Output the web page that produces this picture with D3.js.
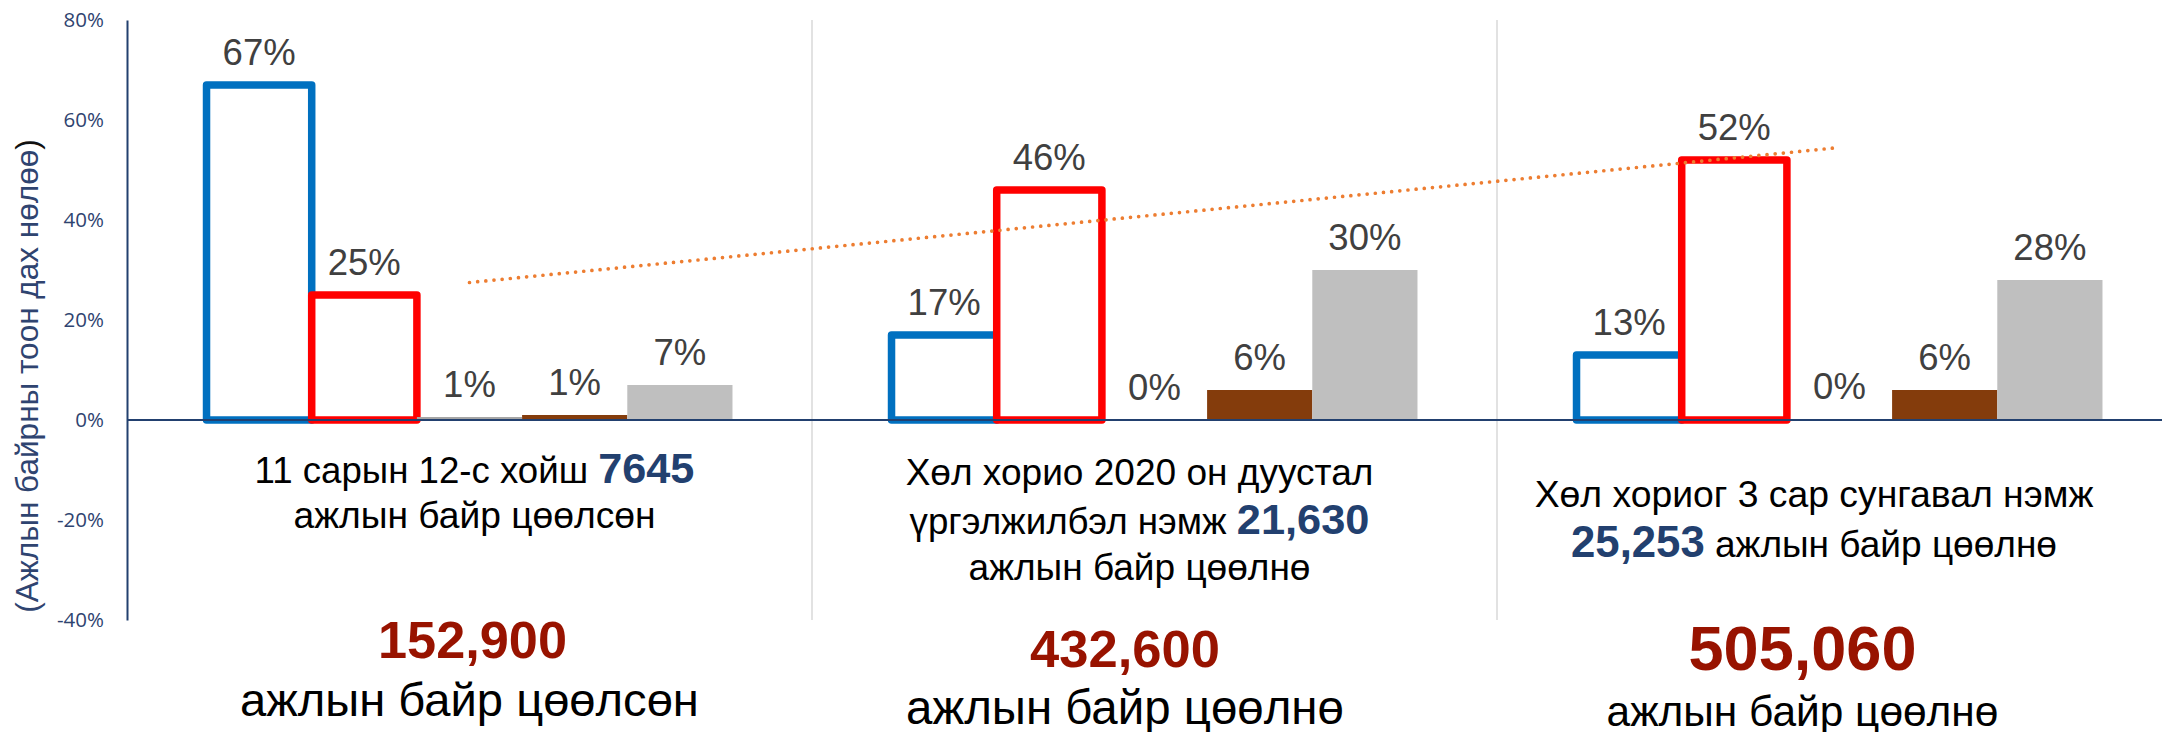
<!DOCTYPE html>
<html>
<head>
<meta charset="utf-8">
<script src="https://cdn.jsdelivr.net/npm/d3@7"></script>
<style>
  html, body { margin: 0; padding: 0; background: #ffffff; }
  svg { display: block; }
</style>
</head>
<body>
<svg id="chart" width="2162" height="732"></svg>
<script>
// ---------------- DATA ----------------
const groups = ["g1", "g2", "g3"];
const seriesKeys = ["s1", "s2", "s3", "s4", "s5"];
const series1 = [67, 17, 13];     // blue outline
const series2 = [25, 46, 52];     // red outline
const series3 = [0.6, 0.1, 0.2];  // mid gray (labels 1%, 0%, 0%)
const series4 = [1, 6, 6];        // brown
const series5 = [7, 30, 28];      // light gray
const yTickValues = [-40, -20, 0, 20, 40, 60, 80];
const yTitle = "(Ажлын байрны тоон дах нөлөө";
const yTitleEnd = ")";
const subtitleLines = [
  [[{ t: "11 сарын 12-с хойш " }, { t: "7645", b: true }],
   [{ t: "ажлын байр цөөлсөн" }]],
  [[{ t: "Хөл хорио 2020 он дуустал" }],
   [{ t: "үргэлжилбэл нэмж " }, { t: "21,630", b: true }],
   [{ t: "ажлын байр цөөлнө" }]],
  [[{ t: "Хөл хориог 3 сар сунгавал нэмж" }],
   [{ t: "25,253", b: true }, { t: " ажлын байр цөөлнө" }]]
];
const bigNumbers = ["152,900", "432,600", "505,060"];
const bigTexts = ["ажлын байр цөөлсөн", "ажлын байр цөөлнө", "ажлын байр цөөлнө"];

// ---------------- LAYOUT / STYLE ----------------
const W = 2162, H = 732;
const plotLeft = 127, bandW = 685;
const yTop = 20, yBottom = 620;
const colors = { s1: "#0070C0", s2: "#FF0000", s3: "#A5A5A5", s4: "#843C0C", s5: "#BFBFBF" };
const outlined = { s1: true, s2: true };
const navy = "#22406F";
const darkRed = "#981300";
const FONT = "'Liberation Sans', Arial, sans-serif";

// subtitle layout per group: center offset from band center, baselines, target widths
const subLayout = [
  { dx: 5,     base: [483, 528],      w: [440, 362] },
  { dx: -15,   base: [485, 534, 580], w: [468, 460, 342] },
  { dx: -25.5, base: [507, 557],      w: [559, 486] }
];
const bigNumLayout = [
  { dx: 3,     base: 658, w: 189 },
  { dx: -29.5, base: 667, w: 190 },
  { dx: -37,   base: 670, w: 228 }
];
const bigTextLayout = [
  { dx: 0,     base: 716, w: 459 },
  { dx: -29.5, base: 724, w: 438 },
  { dx: -37,   base: 726, w: 392 }
];

const svg = d3.select("#chart");

const seriesData = { s1: series1, s2: series2, s3: series3, s4: series4, s5: series5 };

const x0 = d3.scaleBand().domain(groups).range([plotLeft, plotLeft + bandW * groups.length]).padding(0);
const x1 = d3.scaleBand().domain(seriesKeys).range([0, x0.bandwidth()]).paddingInner(0).paddingOuter(0.756);
const y = d3.scaleLinear().domain([-40, 80]).range([yBottom, yTop]);

// separators
svg.append("g").selectAll("line").data(groups.slice(1)).join("line")
  .attr("x1", d => x0(d)).attr("x2", d => x0(d))
  .attr("y1", yTop).attr("y2", yBottom)
  .attr("stroke", "#D9D9D9").attr("stroke-width", 1.5);

// bars
const flat = [];
groups.forEach((g, gi) => seriesKeys.forEach(k => flat.push({ g, gi, k, v: seriesData[k][gi] })));

const barG = svg.append("g");
barG.selectAll("rect").data(flat).join("rect")
  .attr("x", d => x0(d.g) + x1(d.k))
  .attr("width", x1.bandwidth())
  .attr("y", d => y(Math.max(0, d.v)))
  .attr("height", d => Math.abs(y(d.v) - y(0)))
  .attr("fill", d => outlined[d.k] ? "#ffffff" : colors[d.k])
  .attr("stroke", d => outlined[d.k] ? colors[d.k] : "none")
  .attr("stroke-width", d => outlined[d.k] ? 7.5 : 0)
  .attr("stroke-linejoin", "round");

// zero line
svg.append("line")
  .attr("x1", plotLeft).attr("x2", W)
  .attr("y1", y(0)).attr("y2", y(0))
  .attr("stroke", navy).attr("stroke-width", 2);

// trendline (linear regression of series2 over the groups)
const xs = groups.map((g, i) => i);
const mx = d3.mean(xs), my = d3.mean(series2);
const slope = d3.sum(xs, (xi, i) => (xi - mx) * (series2[i] - my)) / d3.sum(xs, xi => (xi - mx) ** 2);
const intercept = my - slope * mx;
const trendPts = groups.map((g, i) => [x0(g) + x0.bandwidth() / 2, y(intercept + slope * i)]);
svg.append("path")
  .attr("d", d3.line()([trendPts[0], trendPts[trendPts.length - 1]]))
  .attr("fill", "none")
  .attr("stroke", "#ED7D31")
  .attr("stroke-width", 3.7)
  .attr("stroke-linecap", "round")
  .attr("stroke-dasharray", "0 8.2");

// value labels
svg.append("g").selectAll("text").data(flat).join("text")
  .attr("x", d => x0(d.g) + x1(d.k) + x1.bandwidth() / 2)
  .attr("y", d => y(Math.max(0, d.v)) - 20)
  .attr("text-anchor", "middle")
  .attr("font-family", FONT)
  .attr("font-size", 36.5)
  .attr("fill", "#404040")
  .text(d => Math.round(d.v) + "%");

// y axis
const yAxis = d3.axisLeft(y).tickValues(yTickValues).tickSize(0).tickSizeOuter(0).tickPadding(23)
  .tickFormat(d => d + "%");
const axG = svg.append("g").attr("transform", `translate(${plotLeft},0)`).call(yAxis);
axG.select(".domain").attr("stroke", navy).attr("stroke-width", 2);
axG.selectAll(".tick text")
  .attr("font-family", "'Open Sans', 'Liberation Sans', sans-serif")
  .attr("font-size", 20.5)
  .attr("fill", "#2F4470");

// fit helper
function fitWidth(sel, target) {
  sel.attr("font-size", 100);
  const w = sel.node().getComputedTextLength();
  sel.attr("font-size", 100 * target / w);
}

// y title
const yt = svg.append("text")
  .attr("transform", `translate(37.5,376) rotate(-90)`)
  .attr("text-anchor", "middle")
  .attr("font-family", FONT)
  .attr("fill", "#2F4470");
yt.append("tspan").text(yTitle);
yt.append("tspan").attr("fill", "#111111").text(yTitleEnd);
fitWidth(yt, 474);

// category subtitles
const textG = svg.append("g");
groups.forEach((g, gi) => {
  const cx = x0(g) + x0.bandwidth() / 2;
  const L = subLayout[gi];
  subtitleLines[gi].forEach((line, li) => {
    const t = textG.append("text")
      .attr("x", cx + L.dx).attr("y", L.base[li])
      .attr("text-anchor", "middle")
      .attr("font-family", FONT)
      .attr("fill", "#000000");
    line.forEach(part => {
      t.append("tspan")
        .attr("font-weight", part.b ? "bold" : null)
        .attr("font-size", part.b ? "1.18em" : null)
        .attr("fill", part.b ? navy : null)
        .text(part.t);
    });
    fitWidth(t, L.w[li]);
  });
  const bn = bigNumLayout[gi];
  const nt = textG.append("text")
    .attr("x", cx + bn.dx).attr("y", bn.base)
    .attr("text-anchor", "middle")
    .attr("font-family", FONT)
    .attr("font-weight", "bold")
    .attr("fill", darkRed)
    .text(bigNumbers[gi]);
  fitWidth(nt, bn.w);
  const bt = bigTextLayout[gi];
  const tt = textG.append("text")
    .attr("x", cx + bt.dx).attr("y", bt.base)
    .attr("text-anchor", "middle")
    .attr("font-family", FONT)
    .attr("fill", "#000000")
    .text(bigTexts[gi]);
  fitWidth(tt, bt.w);
});
</script>
</body>
</html>
